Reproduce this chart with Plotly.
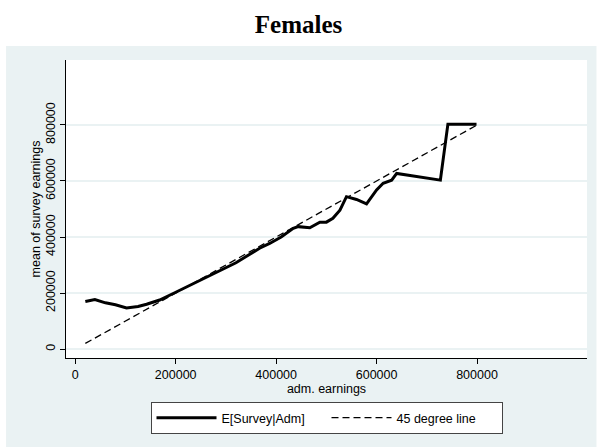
import plotly.graph_objects as go

adm = [20000, 39000, 60000, 80000, 102000, 125000, 142000, 168000, 198000, 240000,
       280000, 320000, 367000, 387000, 410000, 434000, 444000, 467000, 487000, 500000,
       513000, 527000, 540000, 560000, 580000, 600000, 613000, 630000, 640000, 727000,
       742000, 799000]
survey = [170000, 177000, 165000, 158000, 147000, 152000, 160000, 175000, 201000, 237000,
          272000, 308000, 360000, 377000, 400000, 431000, 437000, 433000, 453000, 453000,
          467000, 496000, 544000, 534000, 518000, 568000, 592000, 603000, 627000, 603000,
          803000, 803000]
diag = [20000, 800000]
ticks = [0, 200000, 400000, 600000, 800000]
tick_labels = ["0", "200000", "400000", "600000", "800000"]

W, H = 597, 447
L, R, T, B = 66, 9.5, 60, 89
pw, ph = W - L - R, H - T - B

def px2paper_x(px):
    return (px - L) / pw

def px2paper_y(py):
    return (H - B - py) / ph

fig = go.Figure()
fig.add_trace(go.Scatter(x=adm, y=survey, mode="lines", name="E[Survey|Adm]",
                         line=dict(color="black", width=3)))
fig.add_trace(go.Scatter(x=diag, y=diag, mode="lines", name="45 degree line",
                         line=dict(color="black", width=1.3, dash="7px,4px")))

bg = "#EAF2F3"
fig.update_layout(
    width=W, height=H,
    margin=dict(l=L, r=R, t=T, b=B),
    paper_bgcolor="white",
    plot_bgcolor="white",
    font=dict(family="Liberation Sans, Arial, sans-serif", size=12, color="black"),
    title=dict(text="<b>Females</b>", x=0.5, xref="container", xanchor="center",
               y=1 - 24 / H, yanchor="middle", yref="container",
               font=dict(family="Liberation Serif, Times New Roman, serif", size=25, color="black")),
    shapes=[
        dict(type="rect", xref="paper", yref="paper", layer="below",
             x0=px2paper_x(6), x1=px2paper_x(597), y0=px2paper_y(447), y1=px2paper_y(46),
             fillcolor=bg, line=dict(width=0)),
        dict(type="rect", xref="paper", yref="paper", layer="below",
             x0=0, x1=1, y0=0, y1=1, fillcolor="white", line=dict(width=0)),
    ],
    xaxis=dict(range=[-18500, 1019000], tickvals=ticks, ticktext=tick_labels,
               showgrid=False, zeroline=False, showline=True, linecolor="black", linewidth=1,
               ticks="outside", ticklen=5, tickcolor="black",
               title=dict(text="adm. earnings", standoff=0, font=dict(size=12.5)),
               tickfont=dict(size=12.5)),
    yaxis=dict(range=[-32000, 1032000], tickvals=ticks, ticktext=tick_labels,
               showgrid=True, gridcolor=bg, gridwidth=1.5, zeroline=False,
               showline=True, linecolor="black", linewidth=1,
               ticks="outside", ticklen=5, tickcolor="black", tickangle=-90,
               title=dict(text="mean of survey earnings", standoff=0, font=dict(size=12.5)),
               tickfont=dict(size=12.5)),
    legend=dict(orientation="h", x=0.5, xanchor="center", y=px2paper_y(402), yanchor="top",
                bgcolor="white", bordercolor="#444", borderwidth=1,
                font=dict(size=12.5), entrywidth=100, itemwidth=60),
    showlegend=True,
)

fig.write_html("out.html")
